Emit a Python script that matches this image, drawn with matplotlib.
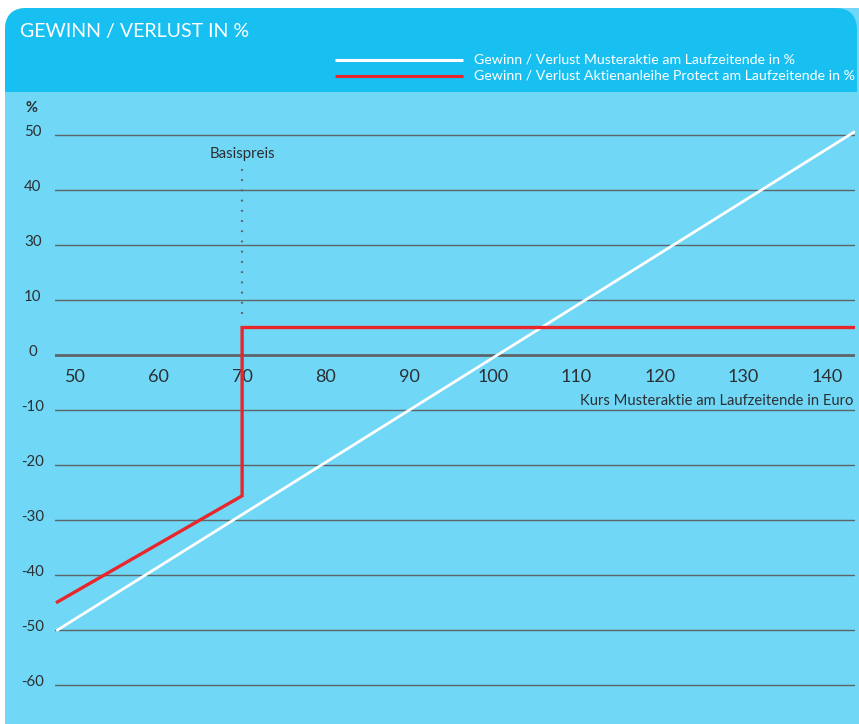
import matplotlib.pyplot as plt
from matplotlib.patches import FancyBboxPatch, Rectangle

plt.rcParams['font.family'] = ['Lato', 'DejaVu Sans']

# Musteraktie: Gewinn/Verlust über den Kurs am Laufzeitende
aktie_kurs = [47.9, 143.2]
aktie_pct = [-50.0, 40.5]

# Aktienanleihe Protect: linear bis Basispreis, darüber fester Kupon
protect_kurs = [47.9, 70.0, 70.0, 143.2]
protect_pct = [-44.9, -25.6, 5.0, 5.0]

basispreis = 70
x_ticks = [50, 60, 70, 80, 90, 100, 110, 120, 130, 140]
y_ticks = [40, 30, 20, 10, 0, -10, -20, -30, -40, -50, -60]
y_tick_labels = ['50', '40', '30', '10', '0', '-10', '-20', '-30', '-40', '-50', '-60']

W, H = 859, 724
dark_blue = '#18c0f1'
light_blue = '#70d8f6'
text_col = '#2b2f33'
grid_col = '#5f6468'

fig = plt.figure(figsize=(W / 100, H / 100), dpi=100)

# background panel in pixel coordinates
bg = fig.add_axes([0, 0, 1, 1])
bg.set_xlim(0, W)
bg.set_ylim(H, 0)
bg.axis('off')
box = FancyBboxPatch((5, 8), W + 20, 719, boxstyle='round,pad=0,rounding_size=22',
                     facecolor=light_blue, edgecolor='none')
bg.add_patch(box)
box_top = FancyBboxPatch((5, 8), W - 7, H + 20, boxstyle='round,pad=0,rounding_size=22',
                         facecolor=light_blue, edgecolor='none')
bg.add_patch(box_top)
header = Rectangle((0, 0), W, 92, facecolor=dark_blue, edgecolor='none')
bg.add_patch(header)
header.set_clip_path(box_top)

bg.text(20, 32, 'GEWINN / VERLUST IN %', color='white', fontsize=14.1,
        va='center', ha='left')

# legend drawn by hand in the header
bg.plot([335, 463], [60, 60], color='white', lw=2.2, solid_capstyle='butt')
bg.plot([335, 463], [76, 76], color='#e8262b', lw=2.2, solid_capstyle='butt')
bg.text(474, 59, 'Gewinn / Verlust Musteraktie am Laufzeitende in %',
        color='white', fontsize=10.2, va='center')
bg.text(474, 75, 'Gewinn / Verlust Aktienanleihe Protect am Laufzeitende in %',
        color='white', fontsize=10.2, va='center')

# main chart area
x0_px, x1_px = 55, 855
y0_px, y1_px = 92, 724
ax = fig.add_axes([x0_px / W, 1 - y1_px / H, (x1_px - x0_px) / W, (y1_px - y0_px) / H])
ax.patch.set_alpha(0)
px_x = 8.356
px_y = 5.5
ax.set_xlim(100 + (x0_px - 492.8) / px_x, 100 + (x1_px - 492.8) / px_x)
ax.set_ylim(-(y1_px - 355) / px_y, (355 - y0_px) / px_y)
for s in ax.spines.values():
    s.set_visible(False)
ax.set_xticks([])
ax.set_yticks([])

for y in y_ticks:
    if y == 0:
        ax.axhline(y, color=grid_col, lw=2.0, zorder=1)
    else:
        ax.axhline(y, color=grid_col, lw=1.0, zorder=1)

ax.plot(aktie_kurs, aktie_pct, color='white', lw=2.0, zorder=3)
ax.plot(protect_kurs, protect_pct, color='#e8262b', lw=2.4, zorder=4,
        solid_joinstyle='miter')

ax.plot([basispreis, basispreis], [33.8, 7.5], color=grid_col, lw=1.6,
        linestyle=(0, (0.8, 3.8)), zorder=2)
ax.text(basispreis, 36.6, 'Basispreis', color=text_col, fontsize=10.8,
        ha='center', va='center')

for x in x_ticks:
    ax.text(x, -4.0, str(x), color=text_col, fontsize=13, ha='center', va='center')
ax.text(ax.get_xlim()[1] - 0.2, -8.4, 'Kurs Musteraktie am Laufzeitende in Euro',
        color=text_col, fontsize=10.6, ha='right', va='center')

# y labels sit left of the chart area
for y, lab in zip(y_ticks, y_tick_labels):
    bg.text(33, 355 - y * px_y - 3, lab, color=text_col, fontsize=10.8,
            ha='center', va='center')
bg.text(32, 108, '%', color=text_col, fontsize=10.5, ha='center', va='center',
        fontweight='bold')

fig.savefig('out.png', dpi=100)
